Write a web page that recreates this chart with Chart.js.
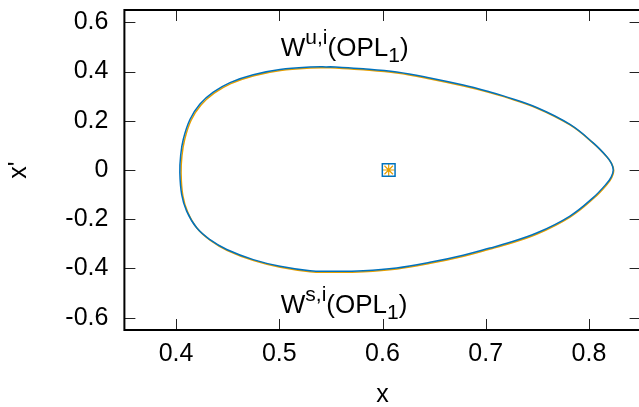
<!DOCTYPE html>
<html lang="en">
<head>
<meta charset="UTF-8" />
<title>Invariant manifolds of OPL1</title>
<script src="https://cdn.jsdelivr.net/npm/chart.js@4"></script>
<style>
	html, body { margin: 0; padding: 0; background: #fff; overflow: hidden; }
	canvas { display: block; }
</style>
</head>
<body>
<canvas id="chart" width="642" height="407"></canvas>
<script>
// first branch (blue), traced counter-clockwise from the top
const blueX = [0.5491, 0.5298, 0.5007, 0.4748, 0.4523, 0.4361, 0.4232, 0.4135, 0.4070, 0.4045, 0.4037,
	0.4055, 0.4103, 0.4200, 0.4329, 0.4491, 0.4748, 0.5007, 0.5298, 0.5491, 0.5814, 0.6137, 0.6460,
	0.6782, 0.7041, 0.7170, 0.7493, 0.7816, 0.8041, 0.8171, 0.8216, 0.8235, 0.8216, 0.8171, 0.8041,
	0.7816, 0.7493, 0.7170, 0.7041, 0.6782, 0.6460, 0.6137, 0.5814, 0.5491];
const blueY = [0.419, 0.418, 0.408, 0.387, 0.355, 0.316, 0.268, 0.205, 0.124, 0.060, -0.010,
	-0.100, -0.167, -0.235, -0.283, -0.323, -0.364, -0.391, -0.409, -0.411, -0.409, -0.398, -0.375,
	-0.346, -0.317, -0.302, -0.256, -0.187, -0.112, -0.055, -0.028, 0.000, 0.028, 0.055, 0.110,
	0.185, 0.254, 0.301, 0.317, 0.345, 0.374, 0.398, 0.411, 0.419];
// second branch (orange)
const orangeX = [0.5494, 0.5301, 0.5012, 0.4755, 0.4531, 0.4370, 0.4242, 0.4146, 0.4082, 0.4057, 0.4049,
	0.4066, 0.4113, 0.4208, 0.4336, 0.4497, 0.4752, 0.5010, 0.5300, 0.5493, 0.5816, 0.6140, 0.6463,
	0.6786, 0.7045, 0.7174, 0.7497, 0.7821, 0.8046, 0.8176, 0.8220, 0.8240, 0.8221, 0.8176, 0.8046,
	0.7820, 0.7497, 0.7174, 0.7045, 0.6786, 0.6463, 0.6140, 0.5817, 0.5494];
const orangeY = [0.415, 0.414, 0.404, 0.383, 0.351, 0.312, 0.264, 0.202, 0.121, 0.057, -0.013,
	-0.104, -0.171, -0.239, -0.287, -0.327, -0.368, -0.395, -0.413, -0.415, -0.413, -0.402, -0.379,
	-0.350, -0.321, -0.306, -0.260, -0.190, -0.115, -0.058, -0.031, -0.002, 0.025, 0.052, 0.107,
	0.182, 0.251, 0.298, 0.314, 0.341, 0.370, 0.394, 0.407, 0.415];
// the orbit OPL1 itself
const orbitX = [0.606];
const orbitY = [0];

const xTicks = [0.4, 0.5, 0.6, 0.7, 0.8];
const xTickLabels = ["0.4", "0.5", "0.6", "0.7", "0.8"];
const yTicks = [-0.6, -0.4, -0.2, 0, 0.2, 0.4, 0.6];
const yTickLabels = ["-0.6", "-0.4", "-0.2", "0", "0.2", "0.4", "0.6"];

const BLUE = "#0072bd";
const ORANGE = "#e69f00";
const FONT = "'Liberation Sans', Arial, sans-serif";

const toPts = (xs, ys) => xs.map((x, i) => ({ x: x, y: ys[i] }));

// text with super/subscripts, gnuplot style
function drawEnhanced(ctx, x, y, parts) {
	ctx.textBaseline = "alphabetic";
	ctx.textAlign = "left";
	ctx.fillStyle = "#000";
	for (const p of parts) {
		ctx.font = p.size + "px " + FONT;
		ctx.fillText(p.t, x, y + p.dy);
		x += ctx.measureText(p.t).width;
	}
}

const framePlugin = {
	id: "frame",
	afterDatasetsDraw(chart) {
		const { ctx, chartArea: a, scales } = chart;
		const xs = scales.x, ys = scales.y;
		ctx.save();
		ctx.strokeStyle = "#222";
		ctx.lineWidth = 1;
		ctx.beginPath();
		for (const v of xTicks) {
			const px = Math.round(xs.getPixelForValue(v)) + 0.5;
			ctx.moveTo(px, a.bottom); ctx.lineTo(px, a.bottom - 11);
			ctx.moveTo(px, a.top); ctx.lineTo(px, a.top + 11);
		}
		for (const v of yTicks) {
			const py = Math.round(ys.getPixelForValue(v)) + 0.5;
			ctx.moveTo(a.left, py); ctx.lineTo(a.left + 11, py);
			ctx.moveTo(a.right, py); ctx.lineTo(a.right - 11, py);
		}
		ctx.stroke();
		ctx.strokeStyle = "#000";
		ctx.lineWidth = 2;
		ctx.strokeRect(a.left, a.top, a.right - a.left, a.bottom - a.top);

		const lx = xs.getPixelForValue(0.5015);
		drawEnhanced(ctx, lx, ys.getPixelForValue(0.5) + 9, [
			{ t: "W", size: 26, dy: 0 }, { t: "u,i", size: 21, dy: -12 },
			{ t: "(OPL", size: 26, dy: 0 }, { t: "1", size: 21, dy: 6 }, { t: ")", size: 26, dy: 0 }
		]);
		drawEnhanced(ctx, lx, ys.getPixelForValue(-0.55) + 8, [
			{ t: "W", size: 26, dy: 0 }, { t: "s,i", size: 21, dy: -12 },
			{ t: "(OPL", size: 26, dy: 0 }, { t: "1", size: 21, dy: 6 }, { t: ")", size: 26, dy: 0 }
		]);
		ctx.restore();
	}
};

new Chart(document.getElementById("chart"), {
	type: "scatter",
	data: {
		datasets: [
			{ data: toPts(blueX, blueY), showLine: true, borderColor: BLUE, borderWidth: 1.5, pointRadius: 0, tension: 0.4 },
			{ data: toPts(orangeX, orangeY), showLine: true, borderColor: ORANGE, borderWidth: 1.5, pointRadius: 0, tension: 0.4 },
			{ data: toPts(orbitX, orbitY), pointStyle: "rect", pointRadius: 9, borderColor: BLUE, borderWidth: 1.5, backgroundColor: "transparent" },
			{ data: toPts(orbitX, orbitY), pointStyle: "star", pointRadius: 6, borderColor: ORANGE, borderWidth: 1.2, backgroundColor: "transparent" }
		]
	},
	options: {
		responsive: false,
		animation: false,
		devicePixelRatio: 1,
		layout: { autoPadding: false, padding: { top: 10, right: 1.4, left: 0, bottom: 0 } },
		plugins: { legend: { display: false }, tooltip: { enabled: false } },
		scales: {
			x: {
				type: "linear", min: 0.35, max: 0.85,
				grid: { display: false, drawTicks: false },
				border: { display: false },
				afterBuildTicks: (s) => { s.ticks = xTicks.map((v) => ({ value: v })); },
				afterFit: (s) => { s.height = 77; s.paddingLeft = 0; s.paddingRight = 0; },
				ticks: {
					color: "#000", padding: 9, maxRotation: 0,
					font: { family: FONT, size: 25 },
					callback: (v, i) => xTickLabels[i]
				},
				title: { display: true, text: "x", color: "#000", font: { family: FONT, size: 25 }, padding: { top: 0, bottom: -3 } }
			},
			y: {
				type: "linear", min: -0.65, max: 0.65,
				grid: { display: false, drawTicks: false },
				border: { display: false },
				afterBuildTicks: (s) => { s.ticks = yTicks.map((v) => ({ value: v })); },
				afterFit: (s) => { s.width = 124.4; s.paddingTop = 0; s.paddingBottom = 0; },
				ticks: {
					color: "#000", padding: 16,
					font: { family: FONT, size: 25 },
					callback: (v, i) => yTickLabels[i]
				},
				title: { display: true, text: "x'", color: "#000", font: { family: FONT, size: 25 }, padding: { top: 4, bottom: 0 } }
			}
		}
	},
	plugins: [framePlugin]
});
</script>
</body>
</html>
